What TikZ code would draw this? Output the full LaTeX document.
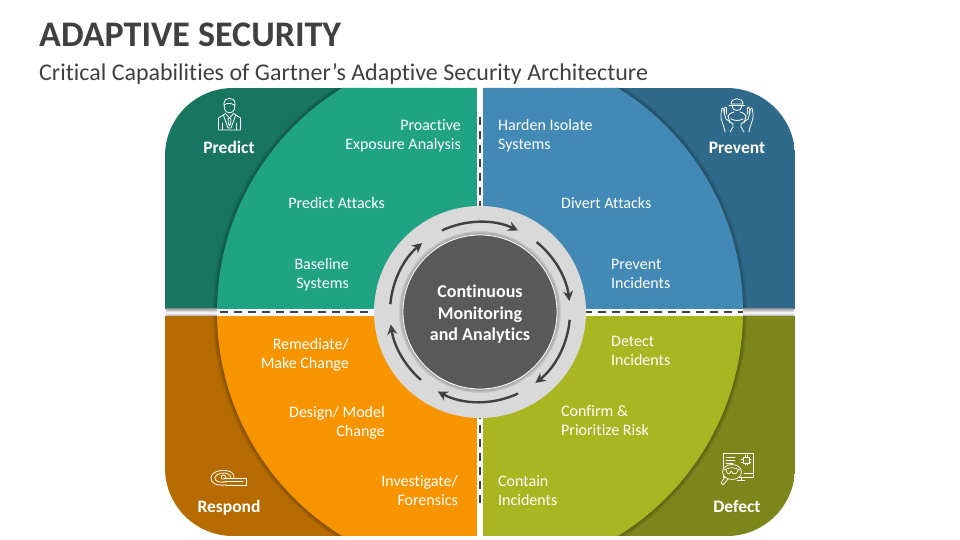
\documentclass[tikz,border=0pt]{standalone}
\usepackage{fontspec}
\setmainfont{Carlito}[Ligatures=NoCommon]
\usetikzlibrary{arrows.meta,shadings}
\definecolor{gL}{HTML}{1FA383}\definecolor{gD}{HTML}{177560}
\definecolor{bL}{HTML}{428AB5}\definecolor{bD}{HTML}{2F6A8A}
\definecolor{oL}{HTML}{F79500}\definecolor{oD}{HTML}{B56B00}
\definecolor{yL}{HTML}{A8B622}\definecolor{yD}{HTML}{7C861B}
\definecolor{ink}{HTML}{404040}\definecolor{ring}{HTML}{D9D9D9}\definecolor{core}{HTML}{595959}
\tikzset{
 lab/.style={text=white,inner sep=0pt,font=\fontsize{16}{19}\selectfont},
 labR/.style={lab,anchor=east,align=right},
 labL/.style={lab,anchor=west,align=left},
 head/.style={text=white,inner sep=0pt,font=\fontsize{17.5}{20}\selectfont\bfseries},
 flow/.style={draw=ink,line width=2.4pt,-{Stealth[length=10pt,width=10pt]}},
 ico/.style={draw=white,line width=.8pt,line cap=round,line join=round},
 seam/.style={draw=ink,line width=2pt,dash pattern=on 8pt off 6pt},
}
\begin{document}
\begin{tikzpicture}[x=1pt,y=1pt]
\useasboundingbox (0,0) rectangle (960,540);
\node[anchor=west,inner sep=0pt,text=ink,font=\fontsize{36}{40}\selectfont\bfseries] (title) at (39,505) {ADAPTIVE SECURITY};
\node[anchor=west,inner sep=0pt,text=ink,font=\fontsize{24}{28}\selectfont] (subtitle) at (39,466) {Critical Capabilities of Gartner’s Adaptive Security Architecture};
% quadrants
\begin{scope}
\clip[rounded corners=68pt] (165,4) rectangle (795,452);
\fill[gD] (165,228) rectangle (480,452);
\fill[bD] (480,228) rectangle (795,452);
\fill[oD] (165,4) rectangle (480,228);
\fill[yD] (480,4) rectangle (795,228);
\foreach \w in {8,5,2}{\draw[black,opacity=.09,line width=\w pt] (480,228) circle[radius=263pt];}
\begin{scope}\clip (165,228) rectangle (480,452);\fill[gL] (480,228) circle[radius=263pt];\end{scope}
\begin{scope}\clip (480,228) rectangle (795,452);\fill[bL] (480,228) circle[radius=263pt];\end{scope}
\begin{scope}\clip (165,4) rectangle (480,228);\fill[oL] (480,228) circle[radius=263pt];\end{scope}
\begin{scope}\clip (480,4) rectangle (795,228);\fill[yL] (480,228) circle[radius=263pt];\end{scope}
\end{scope}
% gaps
\fill[white] (477,0) rectangle (483,460);
\fill[white] (160,224) rectangle (800,231);
\shade[top color=gray!70,bottom color=gray!70,middle color=white] (166,224) rectangle (217,231);
\shade[top color=gray!70,bottom color=gray!70,middle color=white] (743,224) rectangle (794,231);
\coordinate (vt) at (480,423); \coordinate (vb) at (480,34);
\coordinate (hl) at (220,228); \coordinate (hr) at (743,228);
\draw[seam] (vt) -- (vb);
\draw[seam] (hl) -- (hr);
% central ring
\fill[ring] (480,228) circle[radius=106pt];
\foreach \r in {81,80,79}{\fill[black,opacity=.07] (480,228) circle[radius=\r pt];}
\node[circle,draw=white,line width=.8pt,fill=core,minimum size=154pt,inner sep=0pt] (core) at (480,228) {};
\node[inner sep=0pt,text=white,align=center,font=\fontsize{18}{21.5}\selectfont\bfseries] (coretext) at (480,225.5) {Continuous\\Monitoring\\and Analytics};
\draw[flow] ([shift={(480,228)}]115:90) arc[start angle=115,end angle=65,radius=90pt];
\draw[flow] ([shift={(480,228)}]51:90) arc[start angle=51,end angle=7,radius=90pt];
\draw[flow] ([shift={(480,228)}]-5:90) arc[start angle=-5,end angle=-52,radius=90pt];
\draw[flow] ([shift={(480,228)}]-65:90) arc[start angle=-65,end angle=-118,radius=90pt];
\draw[flow] ([shift={(480,228)}]-131:90) arc[start angle=-131,end angle=-172,radius=90pt];
\draw[flow] ([shift={(480,228)}]175:90) arc[start angle=175,end angle=130,radius=90pt];
% labels
\node[labR] (a1) at (461,404) {Proactive\\Exposure Analysis};
\node[labR] (a2) at (385,337) {Predict Attacks};
\node[labR] (a3) at (349,265) {Baseline\\Systems};
\node[labL] (b1) at (498,404) {Harden Isolate\\Systems};
\node[labL] (b2) at (561,337) {Divert Attacks};
\node[labL] (b3) at (611,266.5) {Prevent\\Incidents};
\node[labR] (c1) at (349,185) {Remediate/\\Make Change};
\node[labR] (c2) at (385,117) {Design/ Model\\Change};
\node[labR] (c3) at (458,49.5) {Investigate/\\Forensics};
\node[labL] (d1) at (611,189.5) {Detect\\Incidents};
\node[labL] (d2) at (561,119.5) {Confirm \&\\Prioritize Risk};
\node[labL] (d3) at (498,49.5) {Contain\\Incidents};
\node[head] (h1) at (229,393) {Predict};
\node[head] (h2) at (737,392.5) {Prevent};
\node[head] (h3) at (229,32) {Respond};
\node[head] (h4) at (737,34) {Defect};
% icon: Predict
\begin{scope}[shift={(229.5,425)},ico]
\draw (-5.5,12) .. controls (-6,18) and (5,18.5) .. (5.5,12) -- (5,6) .. controls (4,1) and (-4,1) .. (-5,6) -- cycle;
\draw (-5.5,10) .. controls (-2,12.5) and (2,12) .. (5.5,9.5);
\draw (-4,1.5) -- (-11,-3) -- (-11,-15) -- (11,-15) -- (11,-3) -- (4,1.5);
\draw (-4,1.5) -- (0,-3) -- (4,1.5);
\draw (-6,-.5) -- (-1.5,-13) -- (1.5,-13) -- (6,-.5);
\draw (-1.5,-4) -- (0,-3) -- (1.5,-4) -- (1,-9) -- (0,-11) -- (-1,-9) -- cycle;
\draw (-7,-15) -- (-7,-8); \draw (7,-15) -- (7,-8);
\end{scope}
% icon: Prevent
\begin{scope}[shift={(737,425)},ico]
\draw (-6,11) .. controls (-6,18) and (6,18) .. (6,11) -- (-6,11);
\draw (-8,9.5) -- (8,9.5);
\draw (-5,9) .. controls (-5,3) and (5,3) .. (5,9);
\draw (-9,-1) .. controls (-7,2) and (-4,3) .. (-3,3); \draw (9,-1) .. controls (7,2) and (4,3) .. (3,3);
\draw (-9,-1) -- (-7,-8); \draw (9,-1) -- (7,-8);
\draw (-6,-4) .. controls (-2,-6) and (2,-6) .. (6,-4);
\draw (-12,-17) .. controls (-13,-9) and (-17,-5) .. (-16,1) -- (-15,7) -- (-13.5,6) -- (-12,-1) -- (-11,-4) -- (-4,-9) -- (-4,-12) -- (-7,-17);
\draw (-13,2) -- (-12,8) -- (-10.5,7) -- (-10.5,1);
\draw (12,-17) .. controls (13,-9) and (17,-5) .. (16,1) -- (15,7) -- (13.5,6) -- (12,-1) -- (11,-4) -- (4,-9) -- (4,-12) -- (7,-17);
\draw (13,2) -- (12,8) -- (10.5,7) -- (10.5,1);
\end{scope}
% icon: Respond
\begin{scope}[shift={(228,62)},ico]
\draw (-2,-7) .. controls (-12,-8) and (-18,-5) .. (-17,1) .. controls (-15,8) and (-3,9) .. (3,6) .. controls (6,4) and (6,2) .. (6,0);
\draw (-2,-4) .. controls (-9,-5) and (-14,-3) .. (-13,1) .. controls (-11,5) and (-3,6) .. (0,4) .. controls (2,3) and (3,1) .. (3,0);
\draw (-4,-1) .. controls (-7,-2) and (-8,2) .. (-5,3) .. controls (-3,3) and (-2,2) .. (-2,0);
\draw (-4,0) -- (18,0) -- (18,-7) -- (-2,-7);
\draw (-3,-3.5) -- (15,-3.5);
\end{scope}
% icon: Defect
\begin{scope}[shift={(738,75)},ico,line width=.7pt]
\draw (-14,-12) -- (-15,-12) -- (-15,12) -- (15,12) -- (15,-12) -- (0,-12);
\draw (-12,8) -- (-3,8) (-12,5) -- (-3,5) (-12,2) -- (-5,2);
\draw (5,2) rectangle (11,8);
\draw (3,3) -- (5,3) (3,6) -- (5,6) (11,3) -- (13,3) (11,6) -- (13,6) (7,0) -- (7,2) (9,0) -- (9,2) (7,8) -- (7,10) (9,8) -- (9,10);
\draw (3,-12) -- (3,-15) (-1,-15) -- (7,-15);
\draw (6,-8) -- (15,-8);
\draw[fill=yD] (-6,-7) ellipse[x radius=9.5pt,y radius=7.5pt];
\draw (-13,-12) -- (-17,-18) -- (-15,-20) -- (-10,-14);
\draw (-14,-5) .. controls (-8,-2) and (-4,-2) .. (2,-5);
\draw (-12,-5) .. controls (-11,-10) and (-8,-10) .. (-7,-6) .. controls (-5,-10) and (-1,-10) .. (0,-5);
\end{scope}
\end{tikzpicture}
\end{document}
